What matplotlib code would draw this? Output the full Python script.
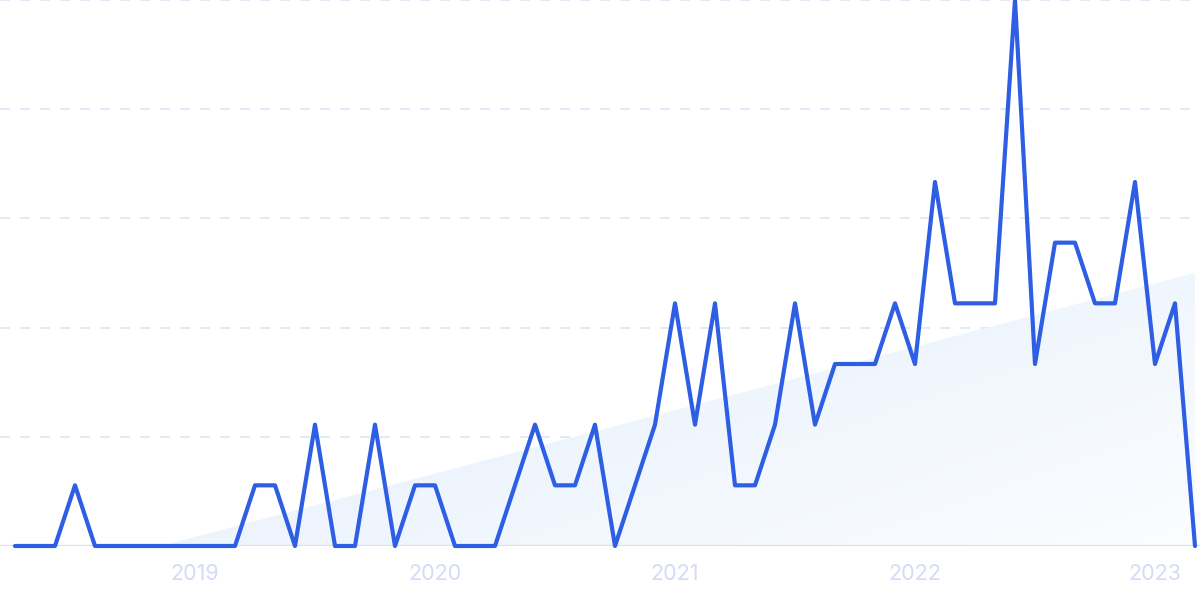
import numpy as np
import matplotlib
matplotlib.use("Agg")
import matplotlib.pyplot as plt
from matplotlib.patches import Polygon
from matplotlib.colors import LinearSegmentedColormap

months = [f"{y}-{m:02d}" for y in range(2018, 2024) for m in range(1, 13)]
months = months[3:3 + 60]  # 2018-04 .. 2023-03
values = [0, 0, 0, 1, 0, 0, 0, 0, 0, 0, 0, 0,
          1, 1, 0, 2, 0, 0, 2, 0, 1, 1, 0, 0, 0,
          1, 2, 1, 1, 2, 0, 1, 2,
          4, 2, 4, 1, 1, 2, 4, 2, 3, 3, 3, 4, 3,
          6, 4, 4, 4, 9, 3, 5, 5, 4, 4, 6, 3, 4, 0]
year_labels = ["2019", "2020", "2021", "2022", "2023"]

x = np.arange(len(values))
y = np.array(values, dtype=float)

fig = plt.figure(figsize=(12, 5.99), dpi=100)
ax = fig.add_axes([0, 53 / 599, 1, 546 / 599])
ax.set_xlim(-0.75, len(values) - 0.75)
ax.set_ylim(0, 9)
for s in ax.spines.values():
    s.set_visible(False)

# trend fill
slope, icpt = np.polyfit(x, y, 1)
xs = np.linspace(x[0], x[-1], 400)
ts = np.clip(slope * xs + icpt, 0, None)
verts = np.column_stack([np.r_[xs, xs[::-1]], np.r_[ts, np.zeros_like(ts)]])
poly = Polygon(verts, closed=True, facecolor="none", edgecolor="none")
ax.add_patch(poly)
cmap = LinearSegmentedColormap.from_list("g", ["#e0ecfb", "#fbfdff"])
gx, gy = np.meshgrid(np.linspace(0, 1, 200), np.linspace(0, 1, 200))
grad = np.clip(0.6 * gx + 0.4 * gy, 0, 1)
im = ax.imshow(grad, extent=[x[0], x[-1], 0, ts.max()], origin="upper",
               cmap=cmap, aspect="auto", zorder=1, vmin=0, vmax=1)
im.set_clip_path(poly)

# grid
for g in [1.8, 3.6, 5.4, 7.2, 9.0]:
    ax.axhline(g, color="#dbe5fb", lw=1.2, dashes=(6, 6), zorder=0)
ax.axhline(0, color="#d3e2f7", lw=1.6, zorder=2)

ax.plot(x, y, color="#2d5ee3", lw=3.0, solid_joinstyle="round",
        solid_capstyle="round", zorder=3, clip_on=False)

jan_idx = [months.index(f"{yl}-01") for yl in year_labels]
ax.set_xticks(jan_idx)
ax.set_xticklabels(year_labels, fontsize=15.5, color="#d3dcf5", family="Inter")
ax.tick_params(axis="x", length=0, pad=13)
ax.set_yticks([])

fig.savefig("out.png", dpi=100)
